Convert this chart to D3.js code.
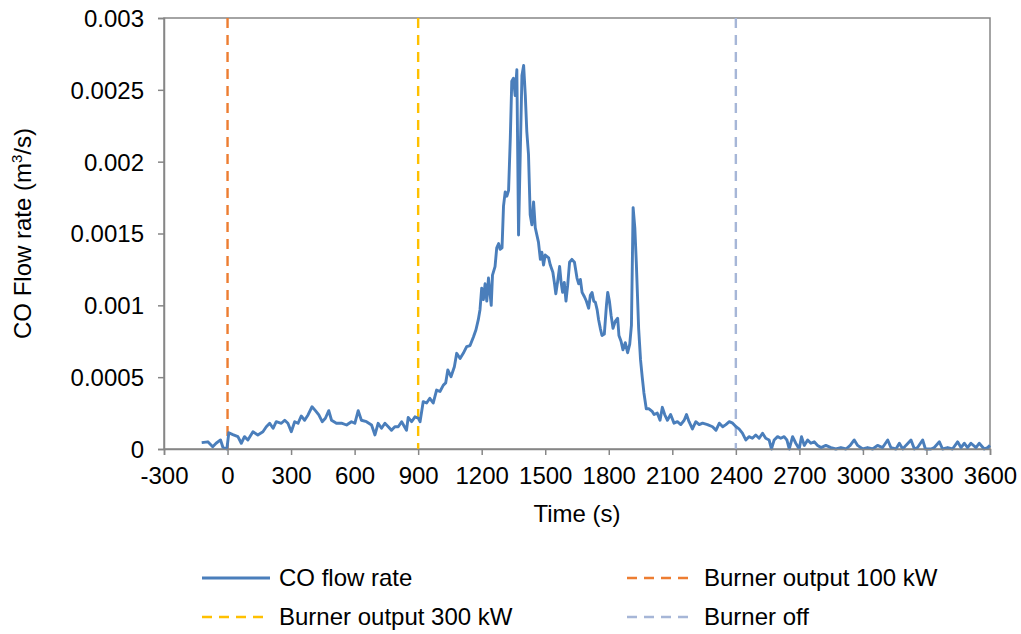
<!DOCTYPE html>
<html>
<head>
<meta charset="utf-8">
<script src="https://cdn.jsdelivr.net/npm/d3@7"></script>
<style>
  html, body { margin: 0; padding: 0; background: #fff; }
  svg { display: block; font-family: "Liberation Sans", Arial, sans-serif; }
</style>
</head>
<body>
<svg id="chart" width="1021" height="634"></svg>
<script>
// ---- data ----
const timeS = [
  -122, -93, -70, -54, -33, -22, -3, 6, 25, 49, 65, 80, 96, 120, 143, 167, 183, 199, 215, 230,
  254, 270, 285, 301, 317, 333, 348, 364, 380, 399, 415, 431, 447, 462, 478, 491, 514, 538, 562, 585,
  601, 617, 632, 656, 680, 696, 711, 727, 743, 759, 774, 790, 806, 822, 845, 853, 869, 885, 901, 909,
  924, 940, 955, 971, 987, 1003, 1019, 1030, 1040, 1055, 1071, 1082, 1098, 1113, 1129, 1145, 1161, 1173, 1184, 1192,
  1200, 1208, 1216, 1224, 1232, 1245, 1251, 1263, 1271, 1280, 1287, 1296, 1303, 1311, 1319, 1327, 1335, 1342, 1350, 1358,
  1366, 1374, 1382, 1390, 1398, 1406, 1413, 1421, 1429, 1437, 1445, 1453, 1468, 1477, 1484, 1492, 1500, 1516, 1524, 1536,
  1543, 1550, 1558, 1568, 1575, 1582, 1590, 1598, 1606, 1615, 1626, 1638, 1650, 1658, 1666, 1674, 1685, 1694, 1705, 1713,
  1721, 1729, 1737, 1745, 1752, 1760, 1768, 1779, 1789, 1795, 1803, 1811, 1820, 1831, 1842, 1848, 1858, 1867, 1878, 1889,
  1899, 1907, 1915, 1923, 1930, 1941, 1950, 1958, 1966, 1977, 1990, 2006, 2014, 2029, 2042, 2053, 2064, 2077, 2092, 2108,
  2124, 2140, 2156, 2167, 2179, 2195, 2211, 2227, 2243, 2266, 2290, 2306, 2322, 2338, 2353, 2369, 2385, 2401, 2415, 2431,
  2447, 2462, 2478, 2494, 2510, 2526, 2541, 2557, 2568, 2581, 2597, 2612, 2628, 2641, 2652, 2668, 2683, 2699, 2710, 2723,
  2739, 2754, 2770, 2786, 2802, 2825, 2849, 2872, 2896, 2920, 2940, 2959, 2975, 2999, 3022, 3046, 3069, 3093, 3117, 3132,
  3156, 3172, 3188, 3203, 3227, 3243, 3258, 3282, 3295, 3321, 3337, 3361, 3376, 3400, 3423, 3447, 3463, 3479, 3494, 3510,
  3534, 3549, 3573, 3589, 3600
];
const coFlow = [
  0.000044, 0.00005, 0.000016, 0.00004, 0.000063, 0.000012, 0.0, 0.000113, 0.0001, 0.000086, 0.00004, 0.000086, 0.000063, 0.00012, 0.000098, 0.00012, 0.000155, 0.000179, 0.000144, 0.00019,
  0.000179, 0.0002, 0.000179, 0.00012, 0.00019, 0.000179, 0.00023, 0.0002, 0.000237, 0.000294, 0.000267, 0.000237, 0.00019, 0.000214, 0.000267, 0.0002, 0.000179, 0.00018, 0.000167, 0.00019,
  0.000179, 0.000267, 0.0002, 0.00019, 0.000167, 0.000098, 0.000179, 0.000144, 0.000179, 0.000155, 0.00013, 0.000155, 0.000155, 0.00019, 0.00013, 0.00022, 0.00019, 0.000224, 0.000214, 0.00019,
  0.00033, 0.00032, 0.000353, 0.00032, 0.00041, 0.0004, 0.000445, 0.00046, 0.00055, 0.000503, 0.000573, 0.000666, 0.00063, 0.000666, 0.000712, 0.00072, 0.00078, 0.00083, 0.0009, 0.00097,
  0.00112, 0.00104, 0.00115, 0.00103, 0.00119, 0.001, 0.00121, 0.00127, 0.0014, 0.00143, 0.00139, 0.0014, 0.00169, 0.00179, 0.00176, 0.0018, 0.00216, 0.00256, 0.00258, 0.00246,
  0.00264, 0.00149, 0.00205, 0.0026, 0.00267, 0.00246, 0.00221, 0.00205, 0.00163, 0.00156, 0.00172, 0.00154, 0.00144, 0.00132, 0.00137, 0.00128, 0.00135, 0.00133, 0.00128, 0.00123,
  0.00116, 0.00108, 0.00116, 0.00127, 0.00116, 0.00109, 0.00116, 0.00103, 0.00114, 0.0013, 0.00132, 0.0013, 0.00119, 0.00115, 0.00118, 0.00109, 0.00106, 0.00103, 0.00098, 0.00107,
  0.00109, 0.00103, 0.00102, 0.00097, 0.0009, 0.00084, 0.00079, 0.0008, 0.001, 0.00109, 0.00103, 0.00093, 0.00084, 0.00089, 0.00091, 0.00079, 0.00075, 0.00069, 0.00074, 0.00067,
  0.00073, 0.00086, 0.00168, 0.00154, 0.0013, 0.00084, 0.00062, 0.0005, 0.00039, 0.00028, 0.00028, 0.00026, 0.00024, 0.00025, 0.0002, 0.00029, 0.00024, 0.0002, 0.00024, 0.00018,
  0.00019, 0.00017, 0.0002, 0.00024, 0.00019, 0.00014, 0.00019, 0.00017, 0.00018, 0.00017, 0.000155, 0.00013, 0.00018, 0.000155, 0.00017, 0.00019, 0.00018, 0.000155, 0.00014, 0.00011,
  0.000063, 0.000086, 0.000075, 0.000098, 0.000075, 0.00011, 0.000075, 0.000063, 0.0, 0.000063, 0.000086, 0.000075, 0.000086, 0.000063, 0.0, 0.000086, 0.00004, 0.0, 0.000086, 0.000025,
  0.000063, 0.00004, 0.00005, 0.000025, 0.00001, 0.000025, 0.00001, 0.0, 0.00001, 0.0, 0.000025, 0.000063, 0.000025, 0.0, 0.00001, 0.0, 0.000025, 0.00001, 0.000063, 0.00001,
  0.0, 0.00004, 0.0, 0.000025, 0.000063, 0.0, 0.00001, 0.000063, 0.0, 0.0, 0.00001, 0.00005, 0.0, 0.00001, 0.0, 0.00005, 0.00001, 0.00004, 0.00001, 0.00004,
  0.00001, 0.00004, 0.0, 0.00001, 0.000025
];
const markerTimes = [0, 900, 2400];
const markerNames = ["Burner output 100 kW", "Burner output 300 kW", "Burner off"];
const seriesName = "CO flow rate";
const xTicks = [-300, 0, 300, 600, 900, 1200, 1500, 1800, 2100, 2400, 2700, 3000, 3300, 3600];
const xTickLabels = ["-300", "0", "300", "600", "900", "1200", "1500", "1800", "2100", "2400", "2700", "3000", "3300", "3600"];
const yTicks = [0, 0.0005, 0.001, 0.0015, 0.002, 0.0025, 0.003];
const yTickLabels = ["0", "0.0005", "0.001", "0.0015", "0.002", "0.0025", "0.003"];
const xTitle = "Time (s)";

// ---- styles ----
const lineColor = "#4a7ebb";
const markerColors = ["#ed7d31", "#ffc000", "#a6b6d7"];
const axisColor = "#868686";
const fontSize = 24;

const svg = d3.select("#chart");
const L = 164, R = 990, T = 18, B = 449;

const x = d3.scaleLinear().domain([-300, 3600]).range([L, R]);
const y = d3.scaleLinear().domain([0, 0.003]).range([B, T]);

// frame (top/right)
svg.append("rect").attr("x", L).attr("y", T).attr("width", R - L).attr("height", B - T)
  .attr("fill", "none").attr("stroke", axisColor).attr("stroke-width", 1.5);

// marker lines
markerTimes.forEach((t, i) => {
  svg.append("line")
    .attr("x1", x(t)).attr("x2", x(t)).attr("y1", y(0.003)).attr("y2", y(0))
    .attr("stroke", markerColors[i]).attr("stroke-width", 2.4)
    .attr("stroke-dasharray", "10,7");
});

// data line
const pts = timeS.map((t, i) => [t, coFlow[i]]);
svg.append("path").datum(pts)
  .attr("fill", "none").attr("stroke", lineColor).attr("stroke-width", 2.9)
  .attr("stroke-linejoin", "round")
  .attr("d", d3.line().x(d => x(d[0])).y(d => y(d[1])));

// axes
const xAxis = svg.append("g").attr("transform", `translate(0,${B})`)
  .call(d3.axisBottom(x).tickValues(xTicks).tickSize(6).tickPadding(12).tickFormat((d, i) => xTickLabels[i]));
const yAxis = svg.append("g").attr("transform", `translate(${L},0)`)
  .call(d3.axisLeft(y).tickValues(yTicks).tickSize(6).tickPadding(14).tickFormat((d, i) => yTickLabels[i]));
[xAxis, yAxis].forEach(g => {
  g.select(".domain").attr("stroke", axisColor).attr("stroke-width", 1.5);
  g.selectAll(".tick line").attr("stroke", axisColor).attr("stroke-width", 1.5);
  g.selectAll(".tick text").attr("fill", "#000").style("font-size", fontSize + "px")
    .style("font-family", '"Liberation Sans", Arial, sans-serif');
});
xAxis.selectAll(".tick text").attr("dy", "0.71em");
yAxis.selectAll(".tick text").attr("dy", "0.35em");

// axis titles
svg.append("text").attr("x", (L + R) / 2).attr("y", 522).attr("text-anchor", "middle")
  .style("font-size", fontSize + "px").text(xTitle);
const yt = svg.append("text").attr("transform", `translate(31,${(T + B) / 2}) rotate(-90)`)
  .attr("text-anchor", "middle").style("font-size", fontSize + "px");
yt.append("tspan").text("CO Flow rate (m");
yt.append("tspan").attr("dy", -9).style("font-size", "15px").text("3");
yt.append("tspan").attr("dy", 9).text("/s)");

// legend
const legendItems = [
  { name: seriesName, color: lineColor, dash: null, lx: 202, ly: 578 },
  { name: markerNames[0], color: markerColors[0], dash: "10,7", lx: 627, ly: 578 },
  { name: markerNames[1], color: markerColors[1], dash: "10,7", lx: 202, ly: 617 },
  { name: markerNames[2], color: markerColors[2], dash: "10,7", lx: 627, ly: 617 }
];
legendItems.forEach(it => {
  const g = svg.append("g");
  g.append("line").attr("x1", it.lx).attr("x2", it.lx + 68).attr("y1", it.ly).attr("y2", it.ly)
    .attr("stroke", it.color).attr("stroke-width", it.dash ? 2.4 : 2.9)
    .attr("stroke-dasharray", it.dash);
  g.append("text").attr("x", it.lx + 77).attr("y", it.ly).attr("dy", "0.35em")
    .style("font-size", fontSize + "px").text(it.name);
});
</script>
</body>
</html>
